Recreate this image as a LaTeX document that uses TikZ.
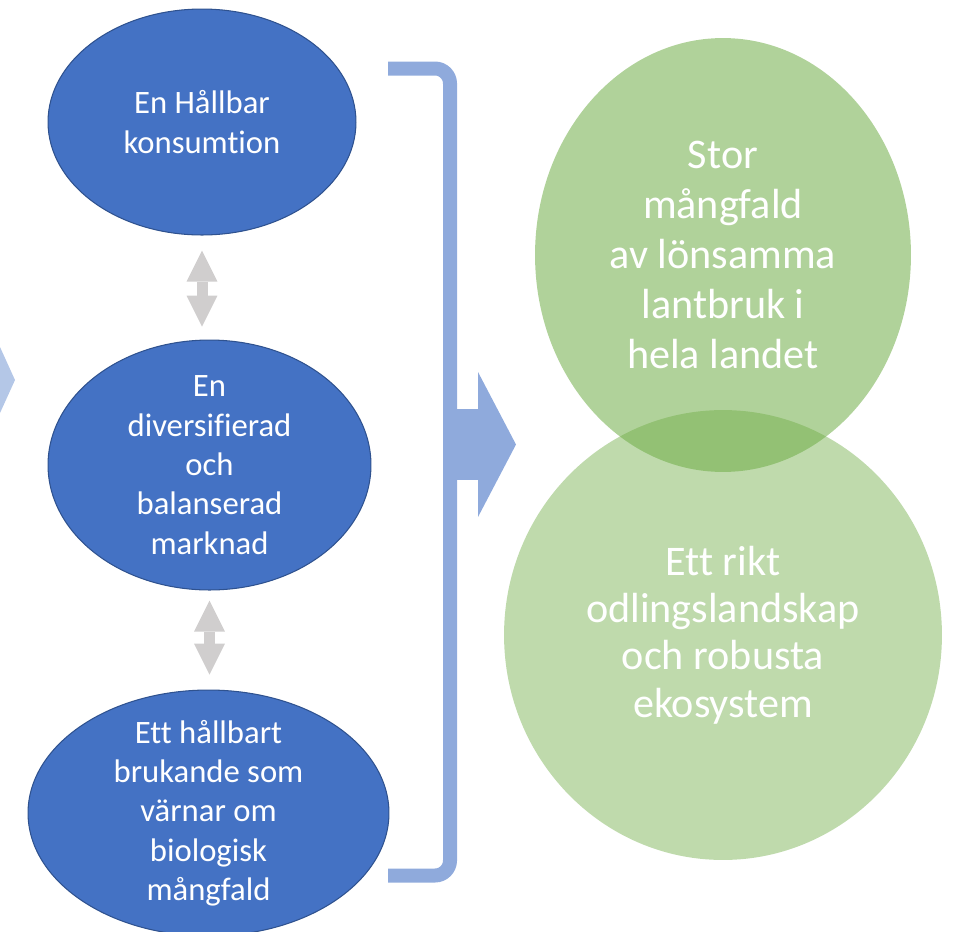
\documentclass[tikz,border=0pt]{standalone}
\usepackage{fontspec}
\setmainfont{Carlito}[Ligatures=NoCommon]
\usepackage{tikz}
\usetikzlibrary{arrows.meta, positioning, shapes.geometric, calc}
\definecolor{goalblue}{HTML}{4472C4}
\definecolor{goaledge}{HTML}{2F528F}
\definecolor{linkgray}{HTML}{D0CECE}
\definecolor{brackblue}{HTML}{8FAADC}
\definecolor{chevblue}{HTML}{B4C7E7}
\definecolor{leafgreen}{HTML}{70AD47}

\begin{document}
\begin{tikzpicture}[x=0.02cm, y=-0.02cm,
    goal/.style={ellipse, draw=goaledge, fill=goalblue, line width=0.6pt, inner sep=-6pt, align=center, text=white, font=\fontsize{18.6}{22.4}\selectfont},
    vision/.style={ellipse, fill=leafgreen, inner sep=-6pt, align=center, text=white, text opacity=1, font=\fontsize{24}{28.4}\selectfont},
    link/.style={linkgray, line width=0.22cm, {Triangle[length=0.62cm, width=0.62cm, line width=0pt]}-{Triangle[length=0.62cm, width=0.62cm, line width=0pt]}},
    bracket/.style={brackblue, line width=0.28cm, rounded corners=0.3cm},
    arrow/.style={brackblue, line width=1.42cm, -{Triangle[length=0.76cm, width=2.9cm, line width=0pt]}},
]
  \useasboundingbox (0,0) rectangle (954,931);

  % chevron cut off at the left edge
  \fill[chevblue] (0,347) -- (15,380) -- (0,413) -- cycle;

  \node[goal, minimum width=6.16cm, minimum height=4.52cm] (cons) at (202,122) {En Hållbar\\konsumtion};
  \node[goal, minimum width=6.46cm, minimum height=5.0cm] (market) at (209.5,465) {En\\diversifierad\\och\\balanserad\\marknad};
  \node[goal, minimum width=7.22cm, minimum height=4.92cm] (use) at (208.5,813) {Ett hållbart\\brukande som\\värnar om\\biologisk\\mångfald};

  \draw[link, shorten <=0.3cm, shorten >=0.26cm] (cons.south) -- (cons.south |- market.north);
  \draw[link, shorten <=0.2cm, shorten >=0.3cm] (market.south) -- (market.south |- use.north);

  % bracket gathering the three goals
  \draw[bracket] (388,68.5) -| (450,875.5) -- (388,875.5);
  \coordinate (brk) at (450,444.5);
  \coordinate (tgt) at (516,444.5);
  \draw[arrow] (brk) -- (tgt);

  \node[vision, fill opacity=0.45, minimum width=8.76cm, minimum height=9.0cm, font=\fontsize{24}{27}\selectfont] (land) at (723,635) {Ett rikt\\odlingslandskap\\och robusta\\ekosystem};
  \node[vision, fill opacity=0.55, minimum width=7.52cm, minimum height=8.68cm] (farms) at (723,255) {Stor\\mångfald\\av lönsamma\\lantbruk i\\hela landet};
\end{tikzpicture}
\end{document}
